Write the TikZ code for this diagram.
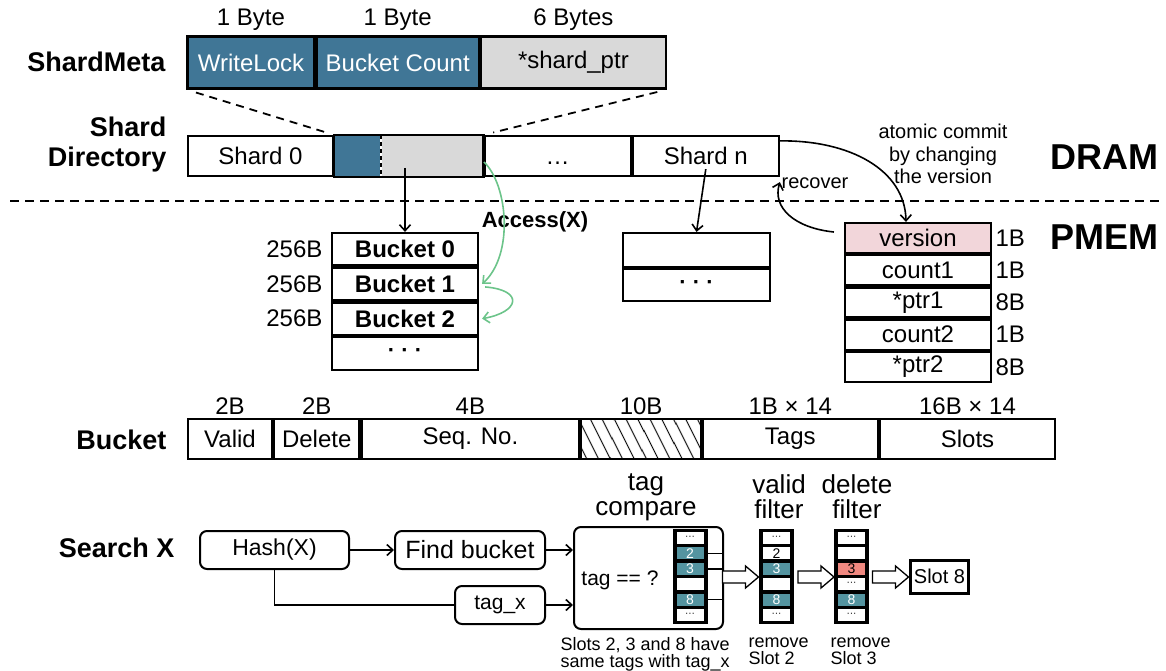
\documentclass[tikz,border=0pt]{standalone}
\usepackage{fontspec}
\setmainfont{Liberation Sans}
\usepackage{tikz}
\usetikzlibrary{positioning}
\usetikzlibrary{arrows.meta}
\usetikzlibrary{patterns.meta}
\definecolor{metablue}{RGB}{64,118,150}
\definecolor{metagray}{RGB}{217,217,217}
\definecolor{verpink}{RGB}{242,214,218}
\definecolor{tagteal}{RGB}{84,148,160}
\definecolor{tagred}{RGB}{240,136,128}
\definecolor{accgreen}{RGB}{108,196,138}
\newcommand{\pxf}[2]{\fontsize{#1}{#2}\selectfont}

\begin{document}
\begin{tikzpicture}[x=1pt, y=-1pt,
		cell/.style={draw, line width=2.2pt, inner sep=0pt, minimum height=39pt, font=\pxf{24}{28}},
		title/.style={anchor=east, align=right, font=\bfseries\pxf{27}{30}},
		bytes/.style={font=\pxf{24}{28}},
		memlabel/.style={font=\bfseries\pxf{36}{40}},
		note/.style={font=\pxf{20}{22.5}, align=center},
		caption/.style={font=\pxf{26}{25}, align=center},
		remark/.style={anchor=north west, align=left, font=\pxf{18}{17}},
		flowbox/.style={draw, rounded corners=7pt, line width=2pt, minimum height=38pt, inner sep=0pt, font=\pxf{22}{26}},
		ptr/.style={-{Straight Barb[length=6pt, width=11pt]}, line width=1.6pt},
		zoomline/.style={dash pattern=on 8pt off 6pt, line width=1.8pt, shorten <=10pt, shorten >=10pt},
		sepline/.style={dash pattern=on 9pt off 6pt, line width=1.6pt},
		access/.style={ptr, draw=accgreen},
		bucketrow/.style={cell, font=\bfseries\pxf{24}{28}, minimum width=146pt, minimum height=32.5pt},
		column/.style={fill=black, draw=black, minimum width=34pt, minimum height=94pt, inner sep=0pt},
		slot/.style={minimum width=27pt, minimum height=12pt, inner sep=0pt, font=\pxf{14}{14}},
		hollow/.style={draw, fill=white, line width=1.3pt, line join=miter}
		]
		\useasboundingbox (0,0) rectangle (1166,671);

		% shard meta
		\node[title] (tmeta) at (169,62) {ShardMeta};
		\node[cell, fill=metablue, text=white, minimum width=127pt, minimum height=52pt] (wlock) at (251,62.5) {WriteLock};
		\node[cell, fill=metablue, text=white, minimum width=162pt, minimum height=52pt, right=0pt of wlock] (bcount) {Bucket Count};
		\node[cell, fill=metagray, minimum width=185pt, minimum height=52pt, right=0pt of bcount] (sptr) {*shard\_ptr};
		\node[bytes, above=1pt of wlock] (hwlock) {1 Byte};
		\node[bytes, above=1pt of bcount] (hbcount) {1 Byte};
		\node[bytes, above=1pt of sptr] (hsptr) {6 Bytes};

		% shard directory
		\node[title] (tdir) at (170,145) {Shard\\Directory};
		\node[cell, minimum width=145pt, minimum height=40pt] (shard0) at (260.5,156) {Shard 0};
		\node[cell, draw=none, fill=metablue, minimum width=45pt, minimum height=40pt, right=0pt of shard0] (dblue) {};
		\node[cell, draw=none, fill=metagray, minimum width=100pt, minimum height=40pt, right=0pt of dblue] (dgray) {};
		\node[cell, minimum width=146pt, minimum height=40pt, right=0pt of dgray] (ddots) {\vphantom{Shard}\ldots};
		\node[cell, minimum width=146pt, minimum height=40pt, right=0pt of ddots] (shardn) {Shard n};
		\draw[line width=2.2pt] (dblue.north west) rectangle (dgray.south east);
		\draw[line width=2pt, dash pattern=on 4pt off 3pt] (dblue.north east) -- (dblue.south east);
		\draw[zoomline] (wlock.south west) -- (dblue.north west);
		\draw[zoomline] (sptr.south east) -- (dgray.north east);

		\node[memlabel] (dram) at (1104,157) {DRAM};
		\node[memlabel] (pmem) at (1104,237) {PMEM};
		\coordinate (sepL) at (10,201);
		\coordinate (sepR) at (1162,201);
		\draw[sepline] (sepL) -- (sepR);

		% buckets of shard 0
		\node[bucketrow] (bk0) at (405,249.25) {Bucket 0};
		\node[bucketrow, below=0pt of bk0] (bk1) {Bucket 1};
		\node[bucketrow, below=0pt of bk1] (bk2) {Bucket 2};
		\node[bucketrow, font=\bfseries\pxf{22}{26}, below=0pt of bk2] (bk3) {· · ·};
		\node[bytes, left=5pt of bk0] (s0) {256B};
		\node[bytes, left=5pt of bk1] (s1) {256B};
		\node[bytes, left=5pt of bk2] (s2) {256B};
		\coordinate (gptr) at (405,168);
		\draw[ptr] (gptr) -- (bk0.north);

		% buckets of shard n
		\node[cell, minimum width=147pt, minimum height=34pt] (sn1) at (696.5,250) {};
		\node[cell, font=\bfseries\pxf{22}{26}, minimum width=147pt, minimum height=32pt, below=0pt of sn1] (sn2) {· · ·};
		\draw[ptr] ([yshift=8pt]shardn.south) -- (sn1.north);

		% version record
		\node[cell, fill=verpink, minimum width=146pt, minimum height=30pt] (ver) at (918,238) {version};
		\node[cell, minimum width=146pt, minimum height=30pt, below=0pt of ver] (cnt1) {count1};
		\node[cell, minimum width=146pt, minimum height=30pt, below=0pt of cnt1] (ptr1) {*ptr1};
		\node[cell, minimum width=146pt, minimum height=30pt, below=0pt of ptr1] (cnt2) {count2};
		\node[cell, minimum width=146pt, minimum height=30pt, below=0pt of cnt2] (ptr2) {*ptr2};
		\node[bytes, right=0pt of ver] (zver) {1B};
		\node[bytes, right=0pt of cnt1] (zcnt1) {1B};
		\node[bytes, right=0pt of ptr1] (zptr1) {8B};
		\node[bytes, right=0pt of cnt2] (zcnt2) {1B};
		\node[bytes, right=0pt of ptr2] (zptr2) {8B};

		\draw[ptr] ([yshift=-6pt]shardn.north east) .. controls (850,140) and (905,170) .. ([xshift=-12pt]ver.north);
		\draw[ptr] ([xshift=-10pt,yshift=6pt]ver.west) .. controls (795,228) and (772,208) .. ([yshift=-5pt]shardn.south east);
		\node[note] (commit) at (943,154) {atomic commit\\by changing\\the version};
		\node[note] (recov) at (815,183) {recover};

		% access path
		\node[font=\bfseries\pxf{22}{26}] (acc) at (535,222) {Access(X)};
		\coordinate (accstart) at (484,162);
		\draw[access] (accstart) .. controls (508,185) and (514,255) .. ([xshift=3pt]bk1.east);
		\draw[access] ([xshift=6pt,yshift=-3pt]bk1.east) .. controls (524,290) and (520,312) .. ([xshift=3pt]bk2.east);

		% bucket layout
		\node[title] (tbucket) at (170,440) {Bucket};
		\node[cell, minimum width=84pt, minimum height=40pt] (fvalid) at (230,439) {Valid};
		\node[cell, minimum width=85pt, minimum height=40pt, right=0pt of fvalid] (fdel) {Delete};
		\node[cell, minimum width=218pt, minimum height=40pt, right=0pt of fdel] (fseq) {Seq. No.};
		\node[cell, minimum width=120pt, minimum height=40pt, right=0pt of fseq, pattern={Lines[angle=-63,distance=10.5pt,line width=1.2pt]}] (fpad) {};
		\node[cell, minimum width=175pt, minimum height=40pt, right=0pt of fpad] (ftags) {Tags};
		\node[cell, minimum width=175pt, minimum height=40pt, right=0pt of ftags] (fslots) {Slots};
		\node[bytes, above=0pt of fvalid] (hvalid) {2B};
		\node[bytes, above=0pt of fdel] (hdel) {2B};
		\node[bytes, above=0pt of fseq] (hseq) {4B};
		\node[bytes, above=0pt of fpad] (hpad) {10B};
		\node[bytes, above=0pt of ftags] (htags) {1B × 14};
		\node[bytes, above=0pt of fslots] (hslots) {16B × 14};

		% search
		\node[title] (tsearch) at (178,548) {Search X};
		\node[flowbox, minimum width=149pt, font=\pxf{23}{27}] (hash) at (274.5,550) {Hash(X)};
		\node[flowbox, minimum width=150pt, font=\pxf{25}{29}] (findb) at (470,550) {Find bucket};
		\node[flowbox, minimum width=90pt, font=\pxf{21}{25}] (tagx) at (500,605) {tag\_x};
		\node[flowbox, minimum width=149pt, minimum height=102pt] (cmp) at (648.5,578) {};
		\node[font=\pxf{21}{25}] (cmptext) at (620,580) {tag == ?};
		\draw[ptr] (hash) -- (findb);
		\draw[ptr] (findb.east) -- (findb.east -| cmp.west);
		\draw[line width=1.6pt] (hash.south) |- (tagx.west);
		\draw[ptr] (tagx.east) -- (tagx.east -| cmp.west);

		\node[caption] (ctag) at (646,497) {tag\\compare};
		\node[caption] (cvalid) at (779,497) {valid\\filter};
		\node[caption] (cdel) at (857,497) {delete\\filter};

		% tag column
		\node[column] (colT) at (690,576.5) {};
		\node[slot, fill=white] (t1) at (690,538) {\pxf{10}{10}···};
		\node[slot, fill=tagteal, text=white] (t2) at (690,553.4) {2};
		\node[slot, fill=tagteal, text=white] (t3) at (690,568.8) {3};
		\node[slot, fill=white] (t4) at (690,584.2) {};
		\node[slot, fill=tagteal, text=white] (t5) at (690,599.6) {8};
		\node[slot, fill=white] (t6) at (690,615) {\pxf{10}{10}···};
		\draw[line width=1.6pt] (t2.east -| colT.east) -- (t2.east -| cmp.east);
		\draw[line width=1.6pt] (t3.east -| colT.east) -- (t3.east -| cmp.east);
		\draw[line width=1.6pt] (t5.east -| colT.east) -- (t5.east -| cmp.east);

		% valid column
		\node[column] (colV) at (776.5,576.5) {};
		\node[slot, fill=white] (v1) at (776.5,538) {\pxf{10}{10}···};
		\node[slot, fill=white] (v2) at (776.5,553.4) {2};
		\node[slot, fill=tagteal, text=white] (v3) at (776.5,568.8) {3};
		\node[slot, fill=white] (v4) at (776.5,584.2) {};
		\node[slot, fill=tagteal, text=white] (v5) at (776.5,599.6) {8};
		\node[slot, fill=white] (v6) at (776.5,615) {\pxf{10}{10}···};

		% delete column
		\node[column] (colD) at (851.5,576.5) {};
		\node[slot, fill=white] (d1) at (851.5,538) {\pxf{10}{10}···};
		\node[slot, fill=white] (d2) at (851.5,553.4) {};
		\node[slot, fill=tagred] (d3) at (851.5,568.8) {3};
		\node[slot, fill=white] (d4) at (851.5,584.2) {\pxf{10}{10}···};
		\node[slot, fill=tagteal, text=white] (d5) at (851.5,599.6) {8};
		\node[slot, fill=white] (d6) at (851.5,615) {\pxf{10}{10}···};

		% hollow arrows
		\coordinate (h1) at (740.5,577);
		\coordinate (h2) at (816,577);
		\coordinate (h3) at (890.5,577);
		\draw[hollow] (h1) ++(-18,-6) -- ++(23,0) -- ++(0,-5) -- ++(13,11) -- ++(-13,11) -- ++(0,-5) -- ++(-23,0) -- cycle;
		\draw[hollow] (h2) ++(-18,-6) -- ++(23,0) -- ++(0,-5) -- ++(13,11) -- ++(-13,11) -- ++(0,-5) -- ++(-23,0) -- cycle;
		\draw[hollow] (h3) ++(-18,-6) -- ++(23,0) -- ++(0,-5) -- ++(13,11) -- ++(-13,11) -- ++(0,-5) -- ++(-23,0) -- cycle;
		\node[draw, line width=3pt, minimum width=58pt, minimum height=33pt, inner sep=0pt, font=\pxf{20}{24}] (slot8) at (939.5,576.5) {Slot 8};

		\node[remark] (rtag) at (557,634) {Slots 2, 3 and 8 have\\same tags with tag\_x};
		\node[remark] (rvalid) at (745,634) {remove\\Slot 2};
		\node[remark] (rdel) at (827,634) {remove\\Slot 3};
	\end{tikzpicture}
\end{document}
